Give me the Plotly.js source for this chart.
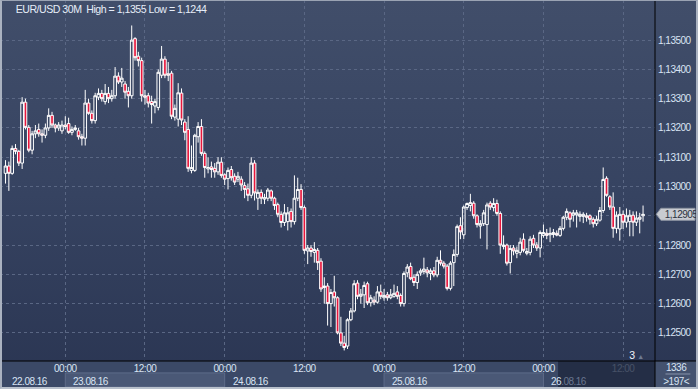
<!DOCTYPE html>
<html>
<head>
<meta charset="utf-8">
<script src="https://cdn.plot.ly/plotly-3.0.1.min.js"></script>
<style>
html,body{margin:0;padding:0;background:#2b3652;}
#wrap{position:relative;width:698px;height:389px;overflow:hidden;
  background:linear-gradient(to bottom,#414e6a 0%,#364361 50%,#2a3552 100%);}
#chart{position:absolute;left:0;top:0;width:698px;height:389px;}
#frame{position:absolute;left:0;top:0;width:698px;height:389px;box-sizing:border-box;
  border-top:1px solid #9aa3b3;border-left:2px solid #aab2c0;border-right:2px solid #aab2c0;border-bottom:2px solid #b8c0cc;pointer-events:none;}
#chart text{letter-spacing:-0.5px;}
</style>
</head>
<body>
<div id="wrap"><div id="chart"></div><div id="frame"></div></div>
<script>
// ---- data (EUR/USD 30M, 22.08.16 15:00 .. 26.08.16 15:00) ----
const startTime = '2016-08-22T15:00:00Z';
const stepMinutes = 30;

const opens = [
1.13045,1.13070,1.13045,1.13130,1.13120,1.13080,1.13288,1.13202,1.13124,1.13180,
1.13195,1.13180,1.13175,1.13200,1.13243,1.13210,1.13200,1.13190,1.13210,1.13215,
1.13185,1.13195,1.13190,1.13170,1.13165,1.13285,1.13250,1.13225,1.13305,1.13318,
1.13290,1.13318,1.13300,1.13310,1.13377,1.13357,1.13350,1.13325,1.13310,1.13505,
1.13445,1.13430,1.13310,1.13310,1.13290,1.13275,1.13270,1.13380,1.13435,1.13385,
1.13387,1.13237,1.13230,1.13319,1.13220,1.13195,1.13055,1.13055,1.13170,1.13205,
1.13113,1.13060,1.13067,1.13062,1.13050,1.13083,1.13040,1.13027,1.13058,1.13035,
1.13025,1.13025,1.13003,1.12992,1.12970,1.13080,1.12960,1.12980,1.12957,1.12960,
1.12985,1.12960,1.12938,1.12905,1.12877,1.12880,1.12915,1.12880,1.12960,1.12990,
1.12928,1.12780,1.12790,1.12775,1.12782,1.12745,1.12655,1.12660,1.12600,1.12640,
1.12620,1.12500,1.12465,1.12455,1.12545,1.12575,1.12670,1.12625,1.12630,1.12668,
1.12603,1.12612,1.12605,1.12640,1.12620,1.12630,1.12620,1.12625,1.12640,1.12628,
1.12600,1.12705,1.12727,1.12690,1.12672,1.12705,1.12710,1.12715,1.12703,1.12712,
1.12698,1.12748,1.12738,1.12728,1.12652,1.12740,1.12768,1.12866,1.12835,1.12928,
1.12935,1.12943,1.12900,1.12865,1.12873,1.12870,1.12943,1.12928,1.12942,1.12908,
1.12795,1.12800,1.12740,1.12790,1.12772,1.12775,1.12820,1.12772,1.12775,1.12823,
1.12800,1.12790,1.12833,1.12840,1.12835,1.12836,1.12840,1.12833,1.12857,1.12895,
1.12910,1.12902,1.12903,1.12898,1.12898,1.12900,1.12900,1.12888,1.12873,1.12885,
1.12918,1.13028,1.12965,1.12930,1.12857,1.12855,1.12905,1.12878,1.12880,1.12902,
1.12878,1.12888,1.12900
];
const highs = [
1.13090,1.13085,1.13140,1.13145,1.13125,1.13305,1.13300,1.13210,1.13190,1.13210,
1.13215,1.13195,1.13215,1.13267,1.13255,1.13215,1.13220,1.13225,1.13240,1.13235,
1.13205,1.13210,1.13200,1.13180,1.13330,1.13300,1.13260,1.13320,1.13335,1.13330,
1.13350,1.13340,1.13330,1.13408,1.13390,1.13405,1.13360,1.13340,1.13550,1.13510,
1.13460,1.13440,1.13330,1.13320,1.13310,1.13300,1.13400,1.13480,1.13445,1.13425,
1.13395,1.13280,1.13353,1.13335,1.13230,1.13240,1.13140,1.13180,1.13220,1.13230,
1.13120,1.13100,1.13085,1.13080,1.13100,1.13100,1.13045,1.13065,1.13070,1.13045,
1.13050,1.13035,1.13015,1.13010,1.13100,1.13090,1.12990,1.12990,1.12975,1.12995,
1.12990,1.12965,1.12945,1.12915,1.12940,1.12930,1.12925,1.13038,1.13030,1.13008,
1.12935,1.12800,1.12800,1.12810,1.12790,1.12755,1.12690,1.12670,1.12650,1.12695,
1.12625,1.12555,1.12490,1.12550,1.12585,1.12680,1.12680,1.12650,1.12675,1.12675,
1.12630,1.12625,1.12660,1.12665,1.12650,1.12640,1.12650,1.12665,1.12660,1.12635,
1.12710,1.12735,1.12740,1.12700,1.12710,1.12720,1.12757,1.12725,1.12720,1.12725,
1.12760,1.12782,1.12745,1.12735,1.12745,1.12785,1.12870,1.12895,1.12935,1.12945,
1.12975,1.12950,1.12905,1.12885,1.12920,1.12945,1.12950,1.12960,1.12955,1.12915,
1.12833,1.12805,1.12800,1.12800,1.12795,1.12825,1.12840,1.12790,1.12830,1.12835,
1.12810,1.12850,1.12870,1.12855,1.12860,1.12855,1.12850,1.12865,1.12900,1.12925,
1.12915,1.12920,1.12920,1.12915,1.12912,1.12910,1.12905,1.12895,1.12900,1.12930,
1.13065,1.13035,1.12970,1.12980,1.12915,1.12930,1.12918,1.12925,1.12920,1.12915,
1.12915,1.12910,1.12935
];
const lows = [
1.13010,1.12985,1.13040,1.13110,1.13070,1.13060,1.13195,1.13117,1.13110,1.13165,
1.13170,1.13150,1.13165,1.13190,1.13200,1.13185,1.13190,1.13180,1.13195,1.13180,
1.13175,1.13190,1.13160,1.13140,1.13140,1.13245,1.13215,1.13215,1.13295,1.13290,
1.13280,1.13285,1.13290,1.13300,1.13350,1.13340,1.13300,1.13270,1.13300,1.13430,
1.13410,1.13290,1.13280,1.13270,1.13215,1.13250,1.13260,1.13370,1.13370,1.13360,
1.13230,1.13225,1.13205,1.13210,1.13158,1.13050,1.13045,1.13050,1.13150,1.13105,
1.13030,1.13045,1.13030,1.13030,1.13040,1.13030,1.13005,1.12990,1.13020,1.13005,
1.13015,1.12985,1.12960,1.12950,1.12960,1.12952,1.12920,1.12940,1.12940,1.12950,
1.12950,1.12920,1.12895,1.12860,1.12865,1.12850,1.12860,1.12870,1.12950,1.12920,
1.12770,1.12735,1.12760,1.12740,1.12715,1.12640,1.12600,1.12525,1.12520,1.12590,
1.12495,1.12455,1.12440,1.12445,1.12540,1.12570,1.12615,1.12600,1.12585,1.12595,
1.12590,1.12595,1.12600,1.12615,1.12610,1.12610,1.12615,1.12620,1.12615,1.12590,
1.12590,1.12690,1.12680,1.12660,1.12650,1.12695,1.12700,1.12690,1.12680,1.12690,
1.12690,1.12730,1.12720,1.12645,1.12645,1.12660,1.12760,1.12820,1.12820,1.12920,
1.12915,1.12890,1.12860,1.12822,1.12865,1.12785,1.12920,1.12915,1.12900,1.12770,
1.12785,1.12730,1.12703,1.12765,1.12755,1.12765,1.12775,1.12765,1.12765,1.12790,
1.12780,1.12758,1.12825,1.12820,1.12810,1.12825,1.12830,1.12828,1.12850,1.12885,
1.12860,1.12880,1.12860,1.12880,1.12875,1.12880,1.12870,1.12860,1.12865,1.12880,
1.12910,1.12965,1.12920,1.12825,1.12840,1.12815,1.12855,1.12860,1.12830,1.12830,
1.12865,1.12840,1.12880
];
const closes = [
1.13070,1.13045,1.13130,1.13120,1.13080,1.13288,1.13202,1.13124,1.13180,1.13190,
1.13180,1.13175,1.13200,1.13243,1.13210,1.13200,1.13210,1.13210,1.13205,1.13185,
1.13195,1.13200,1.13170,1.13165,1.13285,1.13250,1.13225,1.13310,1.13318,1.13300,
1.13318,1.13300,1.13310,1.13377,1.13357,1.13370,1.13322,1.13310,1.13500,1.13440,
1.13430,1.13310,1.13305,1.13285,1.13280,1.13290,1.13390,1.13435,1.13380,1.13380,
1.13240,1.13267,1.13320,1.13227,1.13185,1.13062,1.13065,1.13175,1.13205,1.13113,
1.13065,1.13065,1.13058,1.13050,1.13083,1.13038,1.13025,1.13055,1.13030,1.13015,
1.13035,1.13005,1.12990,1.12970,1.13080,1.12978,1.12980,1.12960,1.12962,1.12988,
1.12960,1.12935,1.12905,1.12877,1.12910,1.12910,1.12880,1.12960,1.12990,1.12928,
1.12782,1.12790,1.12778,1.12785,1.12740,1.12650,1.12660,1.12600,1.12638,1.12620,
1.12500,1.12465,1.12450,1.12545,1.12575,1.12668,1.12625,1.12632,1.12662,1.12603,
1.12620,1.12605,1.12640,1.12625,1.12628,1.12620,1.12630,1.12635,1.12625,1.12600,
1.12703,1.12725,1.12685,1.12672,1.12700,1.12712,1.12718,1.12705,1.12712,1.12698,
1.12748,1.12738,1.12728,1.12652,1.12738,1.12768,1.12863,1.12845,1.12930,1.12942,
1.12945,1.12900,1.12870,1.12873,1.12910,1.12937,1.12930,1.12942,1.12908,1.12800,
1.12800,1.12738,1.12788,1.12780,1.12782,1.12810,1.12782,1.12778,1.12820,1.12800,
1.12790,1.12843,1.12843,1.12833,1.12840,1.12843,1.12834,1.12857,1.12895,1.12915,
1.12888,1.12910,1.12910,1.12905,1.12905,1.12895,1.12888,1.12873,1.12888,1.12918,
1.13024,1.12970,1.12930,1.12857,1.12902,1.12905,1.12878,1.12900,1.12902,1.12878,
1.12892,1.12895,1.12905
];

const timeTickVals = ['2016-08-23 00:00','2016-08-23 12:00','2016-08-24 00:00','2016-08-24 12:00',
  '2016-08-25 00:00','2016-08-25 12:00','2016-08-26 00:00','2016-08-26 12:00'];
const timeTickText = ['00:00','12:00','00:00','12:00','00:00','12:00','00:00','12:00'];
const dayStarts = ['2016-08-22 00:00','2016-08-23 00:00','2016-08-24 00:00','2016-08-25 00:00','2016-08-26 00:00'];
const dayLabels = ['22.08.16','23.08.16','24.08.16','25.08.16','26.08.16'];
const priceTicks = [1.125,1.126,1.127,1.128,1.129,1.130,1.131,1.132,1.133,1.134,1.135];
const symbolTitle = 'EUR/USD 30M';
const rangeHigh = '1,1355', rangeLow = '1,1244';
const barsTotal = '1336', barsVisible = '>197<', markerNumber = '3';

// ---- build ----
const t0 = new Date(startTime).getTime();
function fmt(ms){const d=new Date(ms);const p=n=>String(n).padStart(2,'0');
  return d.getUTCFullYear()+'-'+p(d.getUTCMonth()+1)+'-'+p(d.getUTCDate())+' '+p(d.getUTCHours())+':'+p(d.getUTCMinutes());}
const times = opens.map((_,i)=>fmt(t0+i*stepMinutes*60000));

const FONT = "'Liberation Sans',Arial,sans-serif";
const TXT = '#d9e4f4';
const FS = 10;
const lastClose = closes[closes.length-1];
const comma = v => v.toFixed(5).replace('.',',');
const lastStr = comma(lastClose);
// the price tag hides the tick label it sits on
const priceTickText = priceTicks.map(v => Math.abs(v-lastClose) < 0.0003 ? '' : comma(v));
const dy = 0.000205;

const trace = {
  type:'candlestick', x:times, open:opens, high:highs, low:lows, close:closes,
  increasing:{line:{color:'#ffffff',width:1},fillcolor:'rgba(0,0,0,0)'},
  decreasing:{line:{color:'#ffffff',width:1},fillcolor:'#e8163c'},
  whiskerwidth:0, hoverinfo:'skip', showlegend:false
};

const shapes = [
  {type:'rect',xref:'paper',yref:'paper',x0:-0.01,x1:1.07,y0:-0.09,y1:0,fillcolor:'#3b4967',line:{width:0},layer:'below'},
  {type:'rect',xref:'x',yref:'paper',x0:dayStarts[1],x1:dayStarts[2],y0:-0.072,y1:-0.033,fillcolor:'#4a5876',line:{color:'#5e6c89',width:1},layer:'below'},
  {type:'rect',xref:'x',yref:'paper',x0:dayStarts[3],x1:dayStarts[4],y0:-0.072,y1:-0.033,fillcolor:'#4a5876',line:{color:'#5e6c89',width:1},layer:'below'},
  {type:'rect',xref:'paper',yref:'paper',x0:0.852,x1:1,y0:-0.075,y1:0,fillcolor:'rgba(30,38,62,0.78)',line:{width:0},layer:'above'},
  {type:'rect',xref:'paper',yref:'paper',x0:1,x1:1.07,y0:-0.09,y1:0,fillcolor:'#44526f',line:{width:0},layer:'below'},
  {type:'line',xref:'paper',yref:'paper',x0:1.016,x1:1.054,y0:-0.036,y1:-0.036,line:{color:'#8793aa',width:1},layer:'above'},
  {type:'line',xref:'paper',yref:'paper',x0:-0.01,x1:1.07,y0:0,y1:0,line:{color:'#000000',width:1},layer:'above'},
  {type:'line',xref:'paper',yref:'paper',x0:1,x1:1,y0:-0.09,y1:1,line:{color:'#000000',width:1},layer:'above'},
  {type:'path',xref:'paper',yref:'y',layer:'above',fillcolor:'#c8cbd1',line:{color:'#8e95a2',width:1},
   path:`M 1.002,${lastClose} L 1.009,${lastClose+dy} L 1.061,${lastClose+dy} L 1.061,${lastClose-dy} L 1.009,${lastClose-dy} Z`}
];

const annotations = [
  {xref:'paper',yref:'paper',x:0.006,y:1,xanchor:'left',yanchor:'top',yshift:-1,showarrow:false,
   text:`${symbolTitle}  High = ${rangeHigh} Low = ${rangeLow}`,font:{family:FONT,size:10.6,color:'#e6edf8'}},
  {xref:'paper',yref:'y',x:1.0085,y:lastClose,xanchor:'left',yanchor:'middle',showarrow:false,
   text:lastStr,font:{family:FONT,size:FS,color:'#2c3242'}},
  {xref:'paper',yref:'paper',x:1.0335,y:-0.019,xanchor:'center',yanchor:'middle',showarrow:false,
   text:barsTotal,font:{family:FONT,size:FS,color:TXT}},
  {xref:'paper',yref:'paper',x:1.0335,y:-0.056,xanchor:'center',yanchor:'middle',showarrow:false,
   text:barsVisible,font:{family:FONT,size:FS,color:TXT}},
  {xref:'paper',yref:'paper',x:0.965,y:0.0166,xanchor:'center',yanchor:'middle',showarrow:false,
   text:markerNumber,font:{family:FONT,size:FS+0.5,color:'#f0f4fa'}},
  {xref:'paper',yref:'paper',x:0.9775,y:0.013,xanchor:'center',yanchor:'middle',showarrow:false,
   text:'▲',font:{family:FONT,size:7,color:'#6f7b92'}}
];
dayLabels.forEach((lab,i)=>{
  const txt = (i===dayLabels.length-1) ? lab.slice(0,2)+'<span style="color:#6a7690">'+lab.slice(2)+'</span>' : lab;
  annotations.push({xref:i===0?'paper':'x',yref:'paper',x:i===0?0.012:dayStarts[i],y:-0.058,
    xanchor:'left',yanchor:'middle',xshift:i===0?0:4,showarrow:false,text:txt,font:{family:FONT,size:FS,color:TXT}});
});

const layout = {
  width:698,height:389,margin:{l:0,r:43,t:0,b:28,pad:0},
  paper_bgcolor:'rgba(0,0,0,0)',plot_bgcolor:'rgba(0,0,0,0)',
  separators:', ',
  xaxis:{type:'date',range:['2016-08-22 14:10','2016-08-26 16:48'],
    rangeslider:{visible:false},tickmode:'array',tickvals:timeTickVals,ticktext:timeTickText,
    showgrid:true,gridcolor:'#5a6784',griddash:'dot',gridwidth:1,zeroline:false,showline:false,
    ticks:'',tickfont:{family:FONT,size:FS,color:TXT},ticklabelstandoff:0,fixedrange:true},
  yaxis:{side:'right',range:[1.12404,1.13637],tickmode:'array',tickvals:priceTicks,ticktext:priceTickText,
    showgrid:true,gridcolor:'#5a6784',griddash:'dot',gridwidth:1,zeroline:false,showline:false,
    ticks:'',tickfont:{family:FONT,size:FS,color:TXT},ticklabelstandoff:2,fixedrange:true},
  boxgap:0.2, boxgroupgap:0,
  shapes:shapes,annotations:annotations,showlegend:false,hovermode:false
};

Plotly.newPlot('chart',[trace],layout,{displayModeBar:false,staticPlot:true});
</script>
</body>
</html>
